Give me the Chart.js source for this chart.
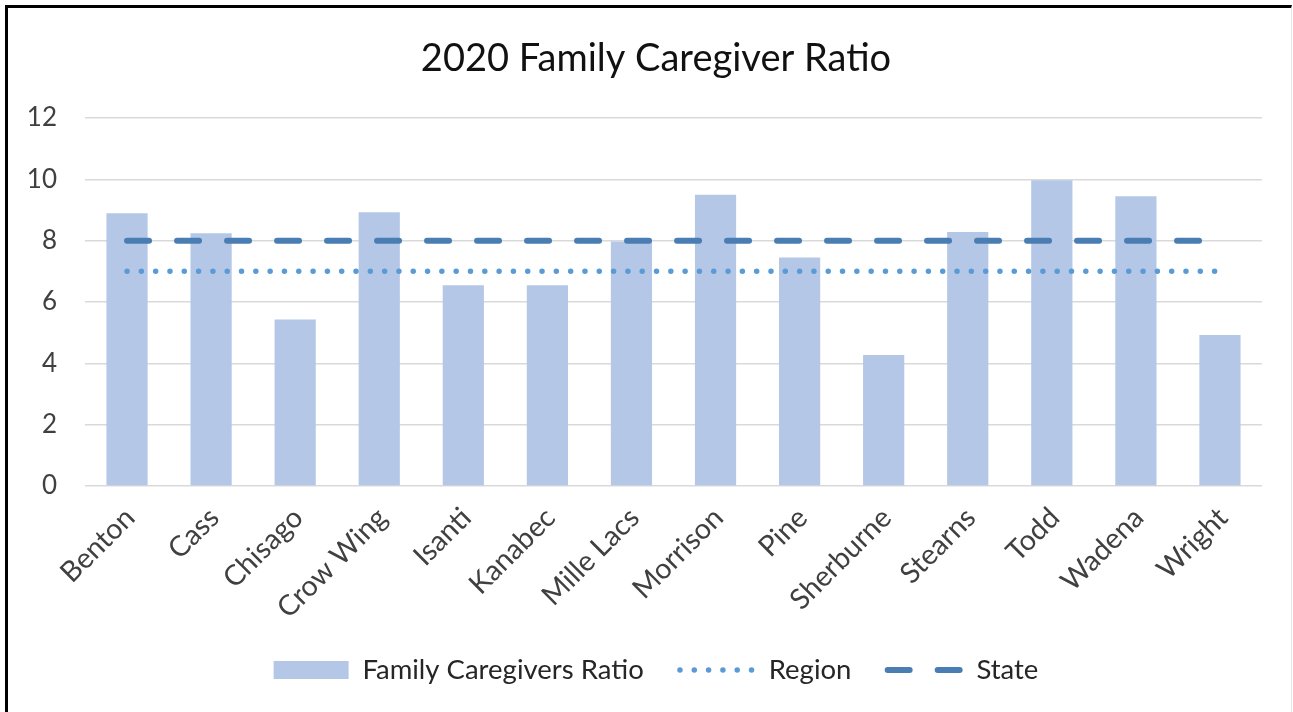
<!DOCTYPE html>
<html>
<head>
<meta charset="utf-8">
<script src="https://cdn.jsdelivr.net/npm/chart.js@4"></script>
<style>
  html, body { margin: 0; padding: 0; background: #fff; }
  #wrap { position: relative; width: 1293px; height: 712px; overflow: hidden; }
  #frame { position: absolute; left: 5px; top: 5px; width: 1283px; height: 760px;
           border-top: 3px solid #000; border-left: 3px solid #000; border-right: 1px solid #e6e6e6;
           pointer-events: none; }
  canvas { position: absolute; left: 0; top: 0; }
</style>
</head>
<body>
<div id="wrap">
  <canvas id="c" width="1293" height="712"></canvas>
  <div id="frame"></div>
</div>
<script>
const counties = ["Benton","Cass","Chisago","Crow Wing","Isanti","Kanabec","Mille Lacs","Morrison","Pine","Sherburne","Stearns","Todd","Wadena","Wright"];
const caregiverRatio = [8.89, 8.24, 5.43, 8.93, 6.55, 6.55, 7.97, 9.50, 7.45, 4.27, 8.28, 9.97, 9.45, 4.92];
const regionValues = [7, 7, 7, 7, 7, 7, 7, 7, 7, 7, 7, 7, 7, 7];
const stateValues = [8, 8, 8, 8, 8, 8, 8, 8, 8, 8, 8, 8, 8, 8];
const yTicks = [0, 2, 4, 6, 8, 10, 12];

const FONT = "Lato, 'Open Sans', sans-serif";
const legendOrder = ['Family Caregivers Ratio', 'Region', 'State'];

new Chart(document.getElementById('c'), {
  data: {
    labels: counties,
    datasets: [
      {
        type: 'line', label: 'Region', data: regionValues,
        borderColor: '#5B9BD5', backgroundColor: '#5B9BD5',
        borderWidth: 5.5, borderDash: [0.01, 14.3], borderCapStyle: 'round',
        pointRadius: 0, pointStyle: 'line', order: 1
      },
      {
        type: 'line', label: 'State', data: stateValues,
        borderColor: '#4A7EB2', backgroundColor: '#4A7EB2',
        borderWidth: 6, borderDash: [22, 28], borderCapStyle: 'round',
        pointRadius: 0, pointStyle: 'line', order: 0
      },
      {
        type: 'bar', label: 'Family Caregivers Ratio', data: caregiverRatio,
        backgroundColor: '#B4C7E7', borderWidth: 0,
        categoryPercentage: 1, barPercentage: 0.49, pointStyle: 'rect', order: 2
      }
    ]
  },
  options: {
    responsive: false,
    animation: false,
    layout: { padding: { left: 25, right: 6, top: 30, bottom: 18.25 } },
    plugins: {
      title: {
        display: true, text: '2020 Family Caregiver Ratio',
        color: '#111', font: { family: FONT, size: 38, weight: 'normal', lineHeight: 1.2 },
        padding: { top: 6.2, bottom: 36.2 }
      },
      legend: {
        position: 'bottom',
        labels: {
          usePointStyle: true, pointStyleWidth: 75, boxHeight: 18,
          padding: 36.25, color: '#262626',
          font: { family: FONT, size: 27.5 },
          generateLabels: (ch) => {
            const items = Chart.defaults.plugins.legend.labels.generateLabels(ch);
            items.forEach(it => {
              const ds = ch.data.datasets[it.datasetIndex];
              if (ds.type === 'line') {
                it.lineDash = ds.borderDash;
                it.lineWidth = ds.borderWidth;
                it.lineCap = 'round';
                it.strokeStyle = ds.borderColor;
                it.pointStyle = 'line';
              } else {
                it.pointStyle = 'rect';
                it.lineWidth = 0;
              }
            });
            items.sort((a, b) => legendOrder.indexOf(a.text) - legendOrder.indexOf(b.text));
            return items;
          }
        }
      },
      tooltip: { enabled: false }
    },
    scales: {
      x: {
        grid: { display: false },
        border: { display: false },
        ticks: { color: '#404040', font: { family: FONT, size: 28.5 }, maxRotation: 45, minRotation: 45, padding: 7, labelOffset: 3 },
        afterFit: (axis) => { axis.height = 134; }
      },
      y: {
        min: 0, max: 12,
        afterBuildTicks: (axis) => { axis.ticks = yTicks.map(v => ({ value: v })); },
        grid: { color: '#D9D9D9', lineWidth: 1.5, drawTicks: false },
        border: { display: false },
        ticks: { color: '#404040', font: { family: FONT, size: 26 }, padding: 28 },
        afterFit: (axis) => { axis.width = 60; }
      },
      yRight: {
        position: 'right', display: true,
        grid: { display: false }, border: { display: false },
        ticks: { display: false },
        afterFit: (axis) => { axis.width = 25; }
      }
    }
  }
});
</script>
</body>
</html>
